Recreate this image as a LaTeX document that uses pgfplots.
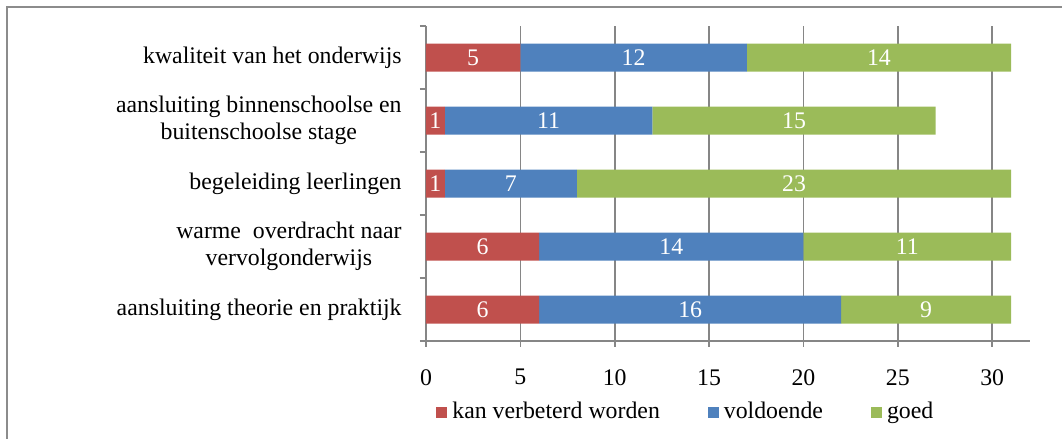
\documentclass[border=0pt]{standalone}
\usepackage{pgfplots}
\pgfplotsset{compat=1.18}
\usepackage{fontspec}
\setmainfont{Liberation Serif}
\definecolor{cRed}{HTML}{C0504D}
\definecolor{cBlue}{HTML}{4F81BD}
\definecolor{cGreen}{HTML}{9BBB59}
\definecolor{cGrid}{HTML}{868686}
\definecolor{cFrame}{HTML}{8C8C8C}
\newcommand{\cf}{\fontsize{11.9}{13.4}\selectfont}
\begin{document}
\begin{tikzpicture}
\useasboundingbox (-213pt,-49pt) rectangle (318pt,170.5pt);
\draw[cFrame, line width=0.75pt] (-209.5pt,-60pt) -- (-209.5pt,167pt) -- (330pt,167pt);
\begin{axis}[
  scale only axis, width=302pt, height=157.5pt,
  xbar stacked, bar width=14pt,
  xmin=0, xmax=32, ymin=0.5, ymax=5.5,
  axis x line*=bottom, axis y line*=left,
  axis line style={-, draw=cGrid, line width=0.8pt},
  xtick={0,5,...,30},
  xmajorgrids, grid style={cGrid, line width=0.8pt},
  ytick={1,2,3,4,5},
  yticklabels={{aansluiting theorie en praktijk},{warme\ \ overdracht naar\\vervolgonderwijs},{begeleiding leerlingen},{aansluiting binnenschoolse en\\buitenschoolse stage},{kwaliteit van het onderwijs}},
  minor ytick={0.5,1.5,...,5.5},
  major y tick style={draw=none},
  tick align=outside,
  major tick length=3pt, minor tick length=3pt,
  tick style={cGrid, line width=0.8pt},
  minor y tick style={draw=cGrid, line width=0.8pt},
  /pgf/number format/assume math mode=true,
  yticklabel style={font=\cf, align=center, inner sep=0pt, xshift=-9pt},
  xticklabel style={font=\cf, inner sep=0pt, anchor=north, yshift=-11pt},
  visualization depends on={rawx \as \rawx},
  nodes near coords={\pgfmathprintnumber{\rawx}},
  every node near coord/.append style={font=\cf, color=white, anchor=center},
  legend columns=3,
  legend image code/.code={\fill[#1, draw=none] (0pt,-2.75pt) rectangle (5.5pt,2.75pt);},
  legend style={at={(0,0)}, anchor=west, xshift=5pt, yshift=-35.5pt, draw=none, font=\cf,
    inner sep=0pt, nodes={inner xsep=0pt},
    /tikz/every odd column/.style={column sep=2.5pt},
    /tikz/every even column/.style={column sep=24pt}},
  legend cell align=left,
]
\addplot[fill=cRed, draw=none] coordinates {(6,1) (6,2) (1,3) (1,4) (5,5)};
\addplot[fill=cBlue, draw=none] coordinates {(16,1) (14,2) (7,3) (11,4) (12,5)};
\addplot[fill=cGreen, draw=none] coordinates {(9,1) (11,2) (23,3) (15,4) (14,5)};
\legend{kan verbeterd worden, voldoende, goed}
\end{axis}
\end{tikzpicture}
\end{document}
